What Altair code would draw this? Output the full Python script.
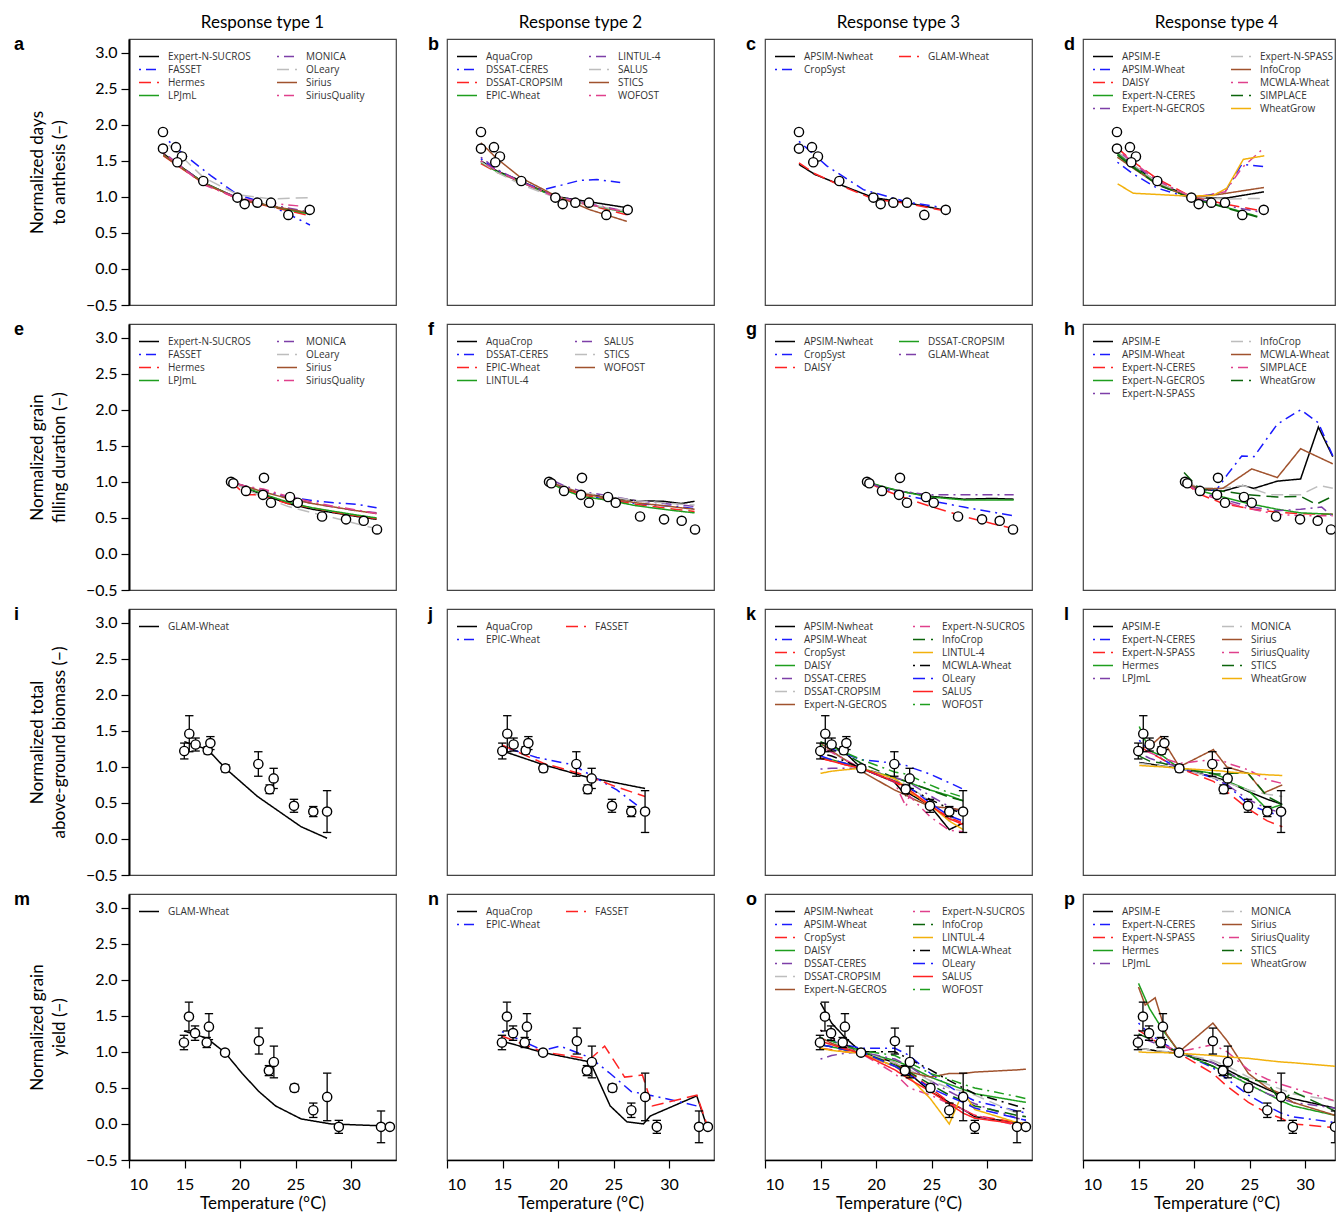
import altair as alt
import pandas as pd

# ---------------- observations (one set per row) ----------------
OBS1_T = [13.06, 13.06, 14.23, 14.77, 14.35, 16.69, 19.76, 20.42, 21.56, 22.79, 24.35, 26.28]
OBS1_V = [1.90, 1.67, 1.69, 1.56, 1.48, 1.22, 0.99, 0.90, 0.92, 0.92, 0.75, 0.82]

OBS2_T = [19.19, 19.40, 20.54, 22.16, 22.07, 22.79, 24.50, 25.20, 27.39, 29.55, 31.14, 32.34]
OBS2_V = [1.00, 0.98, 0.875, 1.056, 0.82, 0.71, 0.79, 0.71, 0.52, 0.48, 0.46, 0.34]

OBS3_T = [14.98, 15.43, 16.00, 17.09, 17.33, 18.68, 21.65, 22.67, 23.03, 24.86, 26.60, 27.84]
OBS3_V = [1.22, 1.46, 1.31, 1.23, 1.33, 0.98, 1.04, 0.69, 0.84, 0.46, 0.38, 0.38]
OBS3_E = [0.11, 0.25, 0.09, 0.05, 0.09, 0.05, 0.17, 0.06, 0.14, 0.09, 0.07, 0.29]

OBS4_T = [14.95, 15.40, 15.95, 17.00, 17.20, 18.65, 21.70, 22.60, 23.05, 24.90, 26.60, 27.85, 28.90, 32.70, 33.50]
OBS4_V = [1.13, 1.49, 1.26, 1.13, 1.35, 0.99, 1.15, 0.74, 0.86, 0.50, 0.19, 0.375, -0.04, -0.04, -0.04]
OBS4_E = [0.10, 0.20, 0.10, 0.07, 0.18, 0.03, 0.18, 0.07, 0.22, 0.05, 0.10, 0.33, 0.09, 0.22, 0.0]

# ---------------- model lines per panel: model -> (T, value) ----------------
T1 = [13.1, 14.4, 16.7, 19.8, 22.8, 26.3]
PANEL_A = {
    "Expert-N-SUCROS": (T1, [1.60, 1.45, 1.20, 0.98, 0.87, 0.77]),
    "FASSET": ([13.6, 15.0, 17.4, 19.8, 22.5, 24.5, 26.3], [1.77, 1.58, 1.29, 1.03, 0.90, 0.75, 0.61]),
    "Hermes": (T1, [1.57, 1.43, 1.19, 0.97, 0.86, 0.74]),
    "LPJmL": (T1, [1.58, 1.44, 1.20, 0.98, 0.87, 0.76]),
    "MONICA": (T1, [1.62, 1.46, 1.19, 0.99, 0.89, 0.79]),
    "OLeary": ([13.6, 14.8, 16.7, 19.8, 22.8, 26.3], [1.72, 1.55, 1.27, 1.03, 0.97, 0.99]),
    "Sirius": (T1, [1.58, 1.44, 1.19, 0.98, 0.87, 0.78]),
    "SiriusQuality": ([13.1, 14.4, 16.7, 19.8, 22.8, 25.6], [1.61, 1.45, 1.17, 0.98, 0.91, 0.87]),
}
T1B = [13.05, 14.5, 16.7, 19.6, 22.9, 26.2]
PANEL_B = {
    "AquaCrop": (T1B, [1.50, 1.36, 1.22, 1.01, 0.93, 0.85]),
    "DSSAT-CERES": ([13.05, 14.5, 16.7, 18.7, 20.5, 22.0, 23.5, 25.6], [1.53, 1.37, 1.20, 1.10, 1.17, 1.23, 1.24, 1.20]),
    "DSSAT-CROPSIM": (T1B, [1.46, 1.34, 1.20, 1.01, 0.88, 0.75]),
    "EPIC-Wheat": (T1B, [1.48, 1.35, 1.20, 1.01, 0.89, 0.78]),
    "LINTUL-4": (T1B, [1.55, 1.38, 1.21, 1.02, 0.90, 0.80]),
    "SALUS": (T1B, [1.49, 1.34, 1.17, 1.00, 0.89, 0.80]),
    "STICS": (T1B, [1.75, 1.53, 1.26, 1.03, 0.82, 0.66]),
    "WOFOST": (T1B, [1.50, 1.36, 1.20, 1.01, 0.89, 0.79]),
}
PANEL_C = {
    "APSIM-Nwheat": ([13.06, 14.5, 16.76, 19.76, 22.76, 26.06], [1.45, 1.31, 1.17, 0.99, 0.92, 0.82]),
    "CropSyst": ([13.06, 15.56, 18.86, 22.76, 26.06], [1.77, 1.43, 1.10, 0.93, 0.85]),
    "GLAM-Wheat": ([13.06, 14.5, 16.76, 19.76, 22.76, 26.06], [1.47, 1.32, 1.16, 0.97, 0.91, 0.81]),
}
PANEL_D = {
    "APSIM-E": (T1, [1.62, 1.45, 1.20, 0.99, 0.98, 1.07]),
    "APSIM-Wheat": ([13.1, 14.5, 16.7, 19.8, 22.8, 24.3, 26.3], [1.48, 1.32, 1.12, 0.98, 1.07, 1.45, 1.42]),
    "DAISY": (T1, [1.68, 1.50, 1.25, 1.00, 0.90, 0.80]),
    "Expert-N-CERES": ([13.1, 14.5, 16.7, 19.8, 22.8, 25.7], [1.60, 1.42, 1.18, 0.98, 0.86, 0.73]),
    "Expert-N-GECROS": (T1, [1.65, 1.47, 1.22, 0.99, 0.88, 0.78]),
    "Expert-N-SPASS": (T1, [1.63, 1.46, 1.20, 1.00, 0.97, 0.98]),
    "InfoCrop": ([13.1, 14.5, 16.7, 19.8, 22.5, 26.3], [1.55, 1.40, 1.17, 0.99, 1.04, 1.13]),
    "MCWLA-Wheat": ([13.1, 14.5, 16.7, 19.8, 22.8, 24.3, 26.3], [1.66, 1.48, 1.23, 0.99, 1.07, 1.40, 1.68]),
    "SIMPLACE": ([13.1, 14.5, 16.7, 19.8, 22.8, 25.7], [1.58, 1.41, 1.17, 0.98, 0.85, 0.72]),
    "WheatGrow": ([13.12, 14.53, 19.64, 21.74, 22.95, 24.44, 26.33], [1.18, 1.05, 1.01, 1.02, 1.12, 1.52, 1.57]),
}

T2 = [19.2, 20.5, 22.1, 24.3, 26.5, 28.5, 30.5, 32.3]
PANEL_E = {
    "Expert-N-SUCROS": (T2, [1.00, 0.91, 0.82, 0.70, 0.62, 0.57, 0.52, 0.48]),
    "FASSET": (T2, [1.00, 0.94, 0.87, 0.79, 0.74, 0.71, 0.69, 0.64]),
    "Hermes": ([19.2, 20.5, 21.8, 22.1, 24.3, 26.5, 28.5, 30.5, 32.3], [1.00, 0.82, 0.82, 0.80, 0.70, 0.64, 0.58, 0.53, 0.49]),
    "LPJmL": (T2, [1.00, 0.92, 0.83, 0.72, 0.64, 0.59, 0.54, 0.50]),
    "MONICA": (T2, [1.00, 0.93, 0.88, 0.78, 0.70, 0.65, 0.60, 0.57]),
    "OLeary": (T2, [1.00, 0.90, 0.79, 0.66, 0.57, 0.50, 0.42, 0.35]),
    "Sirius": (T2, [1.00, 0.94, 0.86, 0.77, 0.70, 0.65, 0.60, 0.56]),
    "SiriusQuality": (T2, [1.00, 0.94, 0.90, 0.80, 0.72, 0.66, 0.61, 0.56]),
}
T2F = [19.1, 20.5, 22.1, 24.7, 27.0, 29.5, 31.1, 32.3]
PANEL_F = {
    "AquaCrop": (T2F, [1.00, 0.92, 0.84, 0.78, 0.74, 0.73, 0.70, 0.73]),
    "DSSAT-CERES": (T2F, [1.02, 0.92, 0.83, 0.74, 0.70, 0.67, 0.65, 0.63]),
    "EPIC-Wheat": (T2F, [1.00, 0.90, 0.82, 0.75, 0.69, 0.64, 0.61, 0.59]),
    "LINTUL-4": (T2F, [1.00, 0.89, 0.80, 0.74, 0.67, 0.62, 0.59, 0.57]),
    "SALUS": (T2F, [1.05, 0.95, 0.87, 0.80, 0.74, 0.70, 0.68, 0.66]),
    "STICS": (T2F, [1.00, 0.93, 0.85, 0.79, 0.74, 0.71, 0.69, 0.68]),
    "WOFOST": (T2F, [1.00, 0.93, 0.84, 0.77, 0.71, 0.67, 0.64, 0.62]),
}
T2G = [19.2, 20.5, 22.2, 24.9, 27.9, 30.5, 32.4]
PANEL_G = {
    "APSIM-Nwheat": (T2G, [1.00, 0.93, 0.87, 0.80, 0.76, 0.77, 0.76]),
    "CropSyst": (T2G, [1.00, 0.92, 0.83, 0.74, 0.65, 0.58, 0.53]),
    "DAISY": (T2G, [1.00, 0.90, 0.80, 0.66, 0.52, 0.42, 0.35]),
    "DSSAT-CROPSIM": (T2G, [1.00, 0.94, 0.87, 0.79, 0.75, 0.75, 0.75]),
    "GLAM-Wheat": (T2G, [1.00, 0.92, 0.87, 0.82, 0.82, 0.82, 0.82]),
}
T2H = [19.1, 20.5, 22.6, 24.9, 27.5, 29.6, 32.5]
PANEL_H = {
    "APSIM-E": ([19.1, 20.5, 22.6, 24.4, 25.4, 27.5, 29.6, 31.2, 32.5], [1.00, 0.90, 0.87, 0.95, 0.91, 1.01, 1.04, 1.76, 1.35]),
    "APSIM-Wheat": ([19.1, 20.5, 22.0, 23.0, 24.3, 25.4, 27.5, 29.6, 31.2, 32.5], [1.00, 0.90, 0.88, 1.10, 1.36, 1.35, 1.80, 2.00, 1.82, 1.36]),
    "Expert-N-CERES": (T2H, [1.00, 0.83, 0.70, 0.63, 0.58, 0.56, 0.55]),
    "Expert-N-GECROS": (T2H, [1.00, 0.88, 0.79, 0.70, 0.62, 0.57, 0.55]),
    "Expert-N-SPASS": ([19.1, 20.5, 22.6, 24.9, 27.5, 29.6, 31.5, 32.5], [1.00, 0.86, 0.76, 0.66, 0.60, 0.62, 0.65, 0.52]),
    "InfoCrop": ([19.1, 20.5, 22.6, 24.4, 26.9, 29.6, 31.3, 32.5], [1.00, 0.92, 0.91, 0.95, 0.82, 0.82, 0.95, 0.91]),
    "MCWLA-Wheat": ([19.1, 20.5, 22.6, 25.2, 27.5, 29.6, 32.5], [1.00, 0.90, 0.91, 1.18, 1.06, 1.46, 1.25]),
    "SIMPLACE": (T2H, [1.00, 0.85, 0.73, 0.63, 0.55, 0.53, 0.53]),
    "WheatGrow": ([19.1, 20.5, 22.6, 24.9, 27.5, 29.6, 31.0, 32.5], [1.13, 0.90, 0.87, 0.82, 0.79, 0.80, 0.69, 0.80]),
}

PANEL_I = {
    "GLAM-Wheat": ([14.98, 17.09, 18.68, 21.57, 24.0, 25.5, 27.84], [1.35, 1.24, 0.98, 0.59, 0.33, 0.17, 0.01]),
}
PANEL_J = {
    "AquaCrop": ([15.0, 15.4, 18.68, 22.58, 27.84], [1.26, 1.20, 1.03, 0.86, 0.70]),
    "EPIC-Wheat": ([15.0, 18.1, 21.3, 23.0, 25.3, 27.1], [1.28, 1.13, 1.03, 0.88, 0.68, 0.47]),
    "FASSET": ([15.0, 18.68, 22.58, 25.3, 27.84], [1.30, 1.05, 0.88, 0.72, 0.59]),
}
T3 = [15.0, 16.0, 17.2, 18.68, 21.65, 22.7, 23.0, 24.86, 26.6, 27.84]
PANEL_K = {
    "APSIM-Nwheat": (T3, [1.34, 1.30, 1.20, 0.98, 0.79, 0.60, 0.63, 0.46, 0.13, 0.22]),
    "APSIM-Wheat": (T3, [1.30, 1.25, 1.18, 1.10, 1.05, 1.02, 1.00, 0.90, 0.78, 0.69]),
    "CropSyst": (T3, [1.12, 1.08, 1.03, 0.98, 0.79, 0.70, 0.65, 0.46, 0.30, 0.22]),
    "DAISY": (T3, [1.12, 1.10, 1.05, 0.98, 0.85, 0.80, 0.78, 0.68, 0.60, 0.53]),
    "DSSAT-CERES": (T3, [0.97, 0.98, 0.98, 0.98, 0.86, 0.80, 0.78, 0.60, 0.45, 0.36]),
    "DSSAT-CROPSIM": (T3, [1.28, 1.20, 1.10, 0.98, 0.82, 0.76, 0.73, 0.52, 0.25, 0.40]),
    "Expert-N-GECROS": (T3, [1.33, 1.22, 1.10, 0.94, 0.68, 0.61, 0.58, 0.45, 0.43, 0.40]),
    "Expert-N-SUCROS": (T3, [1.28, 1.20, 1.10, 0.98, 0.79, 0.45, 0.60, 0.31, 0.12, 0.10]),
    "InfoCrop": (T3, [1.35, 1.28, 1.18, 1.05, 0.85, 0.80, 0.78, 0.68, 0.58, 0.53]),
    "LINTUL-4": (T3, [0.91, 0.94, 0.96, 0.98, 0.84, 0.72, 0.66, 0.47, 0.25, 0.13]),
    "MCWLA-Wheat": (T3, [1.19, 1.15, 1.08, 0.98, 0.80, 0.74, 0.70, 0.55, 0.42, 0.35]),
    "OLeary": (T3, [1.15, 1.10, 1.05, 0.98, 0.80, 0.74, 0.72, 0.50, 0.32, 0.25]),
    "SALUS": (T3, [1.12, 1.08, 1.03, 0.98, 0.80, 0.72, 0.68, 0.47, 0.28, 0.20]),
    "WOFOST": (T3, [1.30, 1.28, 1.20, 1.10, 0.93, 0.90, 0.88, 0.75, 0.64, 0.58]),
}
T3L = [15.07, 16.0, 17.2, 18.68, 21.74, 22.7, 23.0, 24.86, 26.6, 27.95]
PANEL_L = {
    "APSIM-E": (T3L, [1.06, 1.04, 1.01, 0.98, 0.86, 0.82, 0.80, 0.66, 0.55, 0.48]),
    "Expert-N-CERES": (T3L, [1.37, 1.22, 1.10, 0.98, 0.85, 0.77, 0.75, 0.48, 0.38, 0.31]),
    "Expert-N-SPASS": (T3L, [1.28, 1.20, 1.10, 0.98, 0.80, 0.68, 0.65, 0.42, 0.25, 0.17]),
    "Hermes": (T3L, [1.56, 1.22, 1.15, 0.98, 0.91, 0.85, 0.80, 0.68, 0.41, 0.48]),
    "LPJmL": (T3L, [1.19, 1.12, 1.06, 1.00, 0.85, 0.77, 0.75, 0.55, 0.42, 0.36]),
    "MONICA": (T3L, [1.05, 1.03, 1.01, 0.98, 0.85, 0.80, 0.78, 0.68, 0.62, 0.59]),
    "Sirius": ([15.07, 16.0, 17.0, 18.68, 21.74, 22.95, 24.86, 26.3, 27.95], [1.25, 1.28, 1.42, 1.00, 1.24, 1.00, 0.91, 0.64, 0.75]),
    "SiriusQuality": (T3L, [1.25, 1.20, 1.12, 1.05, 1.10, 1.08, 1.05, 0.96, 0.82, 0.77]),
    "STICS": (T3L, [1.15, 1.08, 1.05, 0.98, 0.90, 0.90, 0.91, 0.91, 0.59, 0.48]),
    "WheatGrow": (T3L, [1.02, 1.01, 1.00, 0.98, 0.95, 0.94, 0.93, 0.91, 0.89, 0.88]),
}

PANEL_M = {
    "GLAM-Wheat": ([14.95, 17.0, 18.65, 20.2, 21.7, 23.2, 25.5, 28.2, 33.5], [1.29, 1.19, 0.99, 0.70, 0.45, 0.25, 0.07, 0.0, -0.03]),
}
PANEL_N = {
    "AquaCrop": ([14.95, 18.65, 22.9, 24.7, 26.2, 27.7, 28.3, 32.5, 33.4], [1.15, 0.99, 0.86, 0.25, 0.03, 0.0, 0.11, 0.39, -0.03]),
    "EPIC-Wheat": ([14.95, 18.65, 20.2, 22.9, 24.7, 26.6, 28.9, 32.5], [1.28, 1.02, 1.08, 0.92, 0.70, 0.45, 0.38, 0.25]),
    "FASSET": ([14.95, 18.65, 22.9, 24.2, 26.0, 27.6, 28.5, 32.5, 33.4], [1.22, 1.00, 0.90, 1.08, 0.65, 0.68, 0.25, 0.40, 0.0]),
}
T4 = [15.0, 16.0, 17.2, 18.65, 21.7, 23.0, 24.9, 26.6, 27.85, 28.9, 32.7, 33.5]
PANEL_O = {
    "APSIM-Nwheat": (T4, [1.68, 1.40, 1.20, 1.00, 0.85, 0.70, 0.45, 0.30, 0.20, 0.10, 0.02, 0.00]),
    "APSIM-Wheat": (T4, [1.20, 1.15, 1.10, 1.05, 1.05, 0.95, 0.70, 0.52, 0.40, 0.32, 0.18, 0.15]),
    "CropSyst": (T4, [1.05, 1.03, 1.00, 0.98, 0.85, 0.72, 0.50, 0.30, 0.20, 0.12, 0.02, 0.00]),
    "DAISY": (T4, [1.10, 1.07, 1.03, 1.00, 0.88, 0.80, 0.65, 0.55, 0.48, 0.42, 0.32, 0.30]),
    "DSSAT-CERES": (T4, [0.90, 0.95, 0.98, 1.00, 0.90, 0.80, 0.60, 0.45, 0.35, 0.28, 0.08, 0.05]),
    "DSSAT-CROPSIM": (T4, [1.15, 1.10, 1.05, 1.00, 0.85, 0.75, 0.60, 0.50, 0.45, 0.40, 0.15, 0.10]),
    "Expert-N-GECROS": (T4, [1.20, 1.12, 1.05, 0.98, 0.80, 0.72, 0.65, 0.70, 0.70, 0.72, 0.75, 0.76]),
    "Expert-N-SUCROS": (T4, [1.30, 1.20, 1.08, 0.98, 0.70, 0.50, 0.40, 0.28, 0.20, 0.12, -0.02, -0.05]),
    "InfoCrop": (T4, [1.10, 1.07, 1.03, 1.00, 0.82, 0.72, 0.55, 0.40, 0.32, 0.25, 0.12, 0.10]),
    "LINTUL-4": (T4, [1.05, 1.02, 1.00, 0.98, 0.80, 0.65, 0.35, 0.00, 0.45, 0.20, 0.02, 0.00]),
    "MCWLA-Wheat": (T4, [1.30, 1.20, 1.10, 1.00, 1.00, 0.90, 0.75, 0.60, 0.50, 0.42, 0.25, 0.20]),
    "OLeary": (T4, [1.10, 1.07, 1.03, 1.00, 0.80, 0.68, 0.50, 0.38, 0.30, 0.22, 0.08, 0.05]),
    "SALUS": (T4, [1.15, 1.10, 1.04, 0.98, 0.75, 0.62, 0.45, 0.28, 0.15, 0.08, 0.00, -0.02]),
    "WOFOST": (T4, [1.20, 1.15, 1.08, 1.02, 0.95, 0.85, 0.70, 0.62, 0.55, 0.50, 0.38, 0.35]),
}
PANEL_P = {
    "APSIM-E": (T4, [1.05, 1.03, 1.00, 0.98, 0.85, 0.75, 0.60, 0.48, 0.40, 0.35, 0.22, 0.20]),
    "Expert-N-CERES": (T4, [1.40, 1.25, 1.12, 1.00, 0.78, 0.62, 0.40, 0.25, 0.15, 0.10, 0.02, 0.00]),
    "Expert-N-SPASS": (T4, [1.30, 1.20, 1.08, 0.98, 0.70, 0.52, 0.30, 0.15, 0.08, 0.00, -0.05, -0.05]),
    "Hermes": (T4, [1.95, 1.60, 1.30, 1.00, 0.80, 0.70, 0.55, 0.42, 0.32, 0.25, 0.12, 0.10]),
    "LPJmL": (T4, [1.20, 1.15, 1.08, 1.00, 0.85, 0.72, 0.55, 0.42, 0.35, 0.30, 0.22, 0.20]),
    "MONICA": (T4, [1.05, 1.03, 1.01, 0.98, 0.88, 0.80, 0.65, 0.55, 0.48, 0.42, 0.32, 0.30]),
    "Sirius": ([15.0, 15.6, 16.5, 17.5, 18.65, 21.7, 23.0, 24.9, 26.6, 27.85, 28.9, 32.7, 33.5],
               [1.90, 1.65, 1.75, 1.25, 1.00, 1.40, 1.15, 0.70, 0.50, 0.42, 0.30, 0.12, 0.10]),
    "SiriusQuality": (T4, [1.30, 1.20, 1.10, 1.00, 1.10, 1.00, 0.75, 0.62, 0.55, 0.50, 0.32, 0.30]),
    "STICS": (T4, [1.25, 1.18, 1.08, 1.00, 0.80, 0.70, 0.62, 0.58, 0.30, 0.45, 0.18, 0.15]),
    "WheatGrow": (T4, [1.00, 0.99, 0.99, 0.98, 0.95, 0.93, 0.91, 0.88, 0.86, 0.85, 0.80, 0.79]),
}

ROW_LABELS = [
    ["Normalized days", "to anthesis (\u2212)"],
    ["Normalized grain", "filling duration (\u2212)"],
    ["Normalized total", "above-ground biomass (\u2212)"],
    ["Normalized grain", "yield (\u2212)"],
]
COL_TITLES = ["Response type 1", "Response type 2", "Response type 3", "Response type 4"]
LETTERS = list("abcdefghijklmnop")
Y_TICKS = [-0.5, 0.0, 0.5, 1.0, 1.5, 2.0, 2.5, 3.0]
X_TICKS = [10, 15, 20, 25, 30]

# ---------------- styling ----------------
COLORS = ["#000000", "#1a1aff", "#ff2222", "#1e9e1e", "#7d3fa8", "#bdbdbd",
          "#a0522d", "#e0408c", "#0b640b", "#f2b10c"]
DASHES = [[1, 0], [2, 5, 10, 5], [12, 6]]
W, H = 267, 266
W_LAST = 252
PX = 267 / 24.05
YS = alt.Scale(domain=[-0.5, 3.19], nice=False, zero=False)
AX_FONT = "Lato"


def make_panel(idx, lines, obs_t, obs_v, obs_e):
    row, col = divmod(idx, 4)
    w = W_LAST if col == 3 else W
    xs = alt.Scale(domain=[10, 10 + w / PX], nice=False, zero=False)
    clip = col == 3
    models = list(lines.keys())
    col_range = [COLORS[i % len(COLORS)] for i in range(len(models))]
    dash_range = [DASHES[i % len(DASHES)] for i in range(len(models))]

    recs = []
    for m, (ts, vs) in lines.items():
        for k, (t, v) in enumerate(zip(ts, vs)):
            recs.append({"model": m, "T": t, "v": v, "k": k})
    ldf = pd.DataFrame(recs)

    if row == 3:
        xaxis = alt.Axis(values=X_TICKS, labelFont=AX_FONT, labelFontSize=16, labelColor="black",
                         tickColor="black", tickSize=8, tickWidth=1.2, domainColor="black",
                         domainWidth=1.5, labelPadding=8, grid=False, title="Temperature (\u00b0C)",
                         titleFont=AX_FONT, titleFontSize=17, titleFontWeight="normal",
                         titleColor="black", titleX=W / 2, titleY=48, titleAlign="center",
                         titleBaseline="alphabetic")
    else:
        xaxis = None
    if col == 0:
        yaxis = alt.Axis(values=Y_TICKS, format=".1f", labelFont=AX_FONT, labelFontSize=16,
                         labelColor="black", tickColor="black", tickSize=8, tickWidth=1.2,
                         domainColor="black", domainWidth=2, labelPadding=4, grid=False,
                         title=ROW_LABELS[row], titleFont=AX_FONT, titleFontSize=17,
                         titleFontWeight="normal", titleColor="black", titleAngle=270,
                         titleX=-87, titleY=H / 2, titleAlign="center",
                         titleBaseline="alphabetic", titleLineHeight=22)
    else:
        yaxis = None

    leg = alt.Legend(orient="none", legendX=9, legendY=11, columns=2, title=None,
                     symbolType="stroke", symbolSize=400, symbolStrokeWidth=1.5,
                     labelFont="Open Sans", labelFontSize=10, labelColor="#333333",
                     labelOffset=8, columnPadding=25, rowPadding=0, clipHeight=13,
                     padding=0, labelLimit=200)

    line_layer = alt.Chart(ldf).mark_line(strokeWidth=1.5, clip=clip).encode(
        x=alt.X("T:Q", scale=xs, axis=xaxis),
        y=alt.Y("v:Q", scale=YS, axis=yaxis),
        color=alt.Color("model:N", scale=alt.Scale(domain=models, range=col_range), legend=leg),
        strokeDash=alt.StrokeDash("model:N", scale=alt.Scale(domain=models, range=dash_range), legend=leg),
        order="k:Q",
    )
    layers = [line_layer]

    if obs_e is not None:
        edf = pd.DataFrame({"T": obs_t, "lo": [v - e for v, e in zip(obs_v, obs_e)],
                            "hi": [v + e for v, e in zip(obs_v, obs_e)]})
        layers.append(alt.Chart(edf).mark_rule(color="black", strokeWidth=1.3, clip=clip).encode(
            x=alt.X("T:Q", scale=xs, axis=xaxis),
            y=alt.Y("lo:Q", scale=YS, axis=yaxis), y2="hi:Q"))
        cdf = pd.DataFrame({"T": list(obs_t) * 2,
                            "v": [v - e for v, e in zip(obs_v, obs_e)] + [v + e for v, e in zip(obs_v, obs_e)]})
        layers.append(alt.Chart(cdf).mark_point(shape="stroke", size=70, color="black",
                                                strokeWidth=1.3, opacity=1, clip=clip).encode(
            x=alt.X("T:Q", scale=xs, axis=xaxis),
            y=alt.Y("v:Q", scale=YS, axis=yaxis)))

    odf = pd.DataFrame({"T": obs_t, "v": obs_v})
    layers.append(alt.Chart(odf).mark_circle(size=85, fill="white", stroke="black",
                                             strokeWidth=1.4, opacity=1, clip=clip).encode(
        x=alt.X("T:Q", scale=xs, axis=xaxis),
        y=alt.Y("v:Q", scale=YS, axis=yaxis)))

    tdf = pd.DataFrame({"lab": [LETTERS[idx]]})
    layers.append(alt.Chart(tdf).mark_text(align="left", baseline="middle", fontSize=18,
                                           fontWeight="bold", font="Liberation Sans",
                                           color="black").encode(
        x=alt.value(-115 if col == 0 else -19), y=alt.value(6), text="lab:N"))

    if row == 0:
        hdf = pd.DataFrame({"lab": [COL_TITLES[col]]})
        layers.append(alt.Chart(hdf).mark_text(align="center", baseline="middle", fontSize=17,
                                               font=AX_FONT, color="black").encode(
            x=alt.value(W / 2), y=alt.value(-16), text="lab:N"))

    return alt.layer(*layers).properties(width=w, height=H)


PANELS = [PANEL_A, PANEL_B, PANEL_C, PANEL_D, PANEL_E, PANEL_F, PANEL_G, PANEL_H,
          PANEL_I, PANEL_J, PANEL_K, PANEL_L, PANEL_M, PANEL_N, PANEL_O, PANEL_P]
OBS = [(OBS1_T, OBS1_V, None), (OBS2_T, OBS2_V, None), (OBS3_T, OBS3_V, OBS3_E), (OBS4_T, OBS4_V, OBS4_E)]

charts = []
for i, p in enumerate(PANELS):
    ot, ov, oe = OBS[i // 4]
    charts.append(make_panel(i, p, ot, ov, oe))

chart = alt.concat(*charts, columns=4, spacing={"row": 19, "column": 51}, bounds="flush").resolve_scale(
    color="independent", strokeDash="independent", x="independent", y="independent"
).properties(
    padding={"left": 5, "top": 5, "right": 0, "bottom": 0}
).configure_view(stroke="#444444", strokeWidth=1.2)

chart.save("out.html", embed_options={"renderer": "svg", "actions": False})
